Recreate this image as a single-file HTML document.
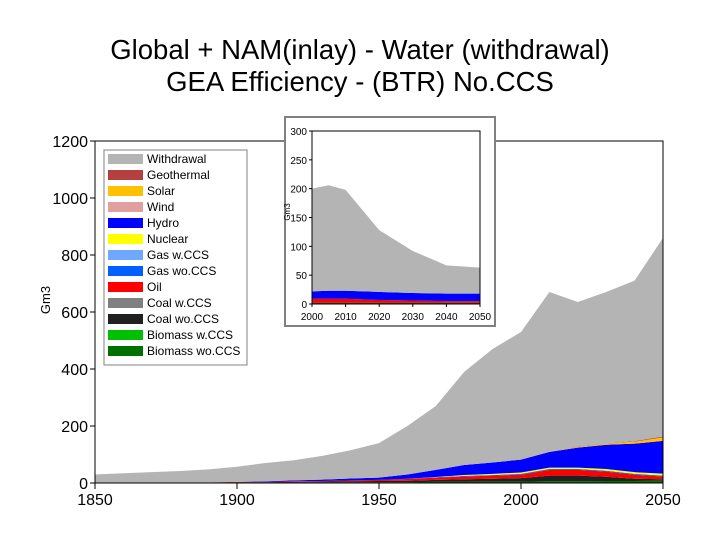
<!DOCTYPE html>
<html><head><meta charset="utf-8"><style>
body{margin:0;background:#fff;}
svg text{font-family:"Liberation Sans",Arial,sans-serif;}
</style></head><body>
<svg id="c" width="720" height="540" xmlns="http://www.w3.org/2000/svg">
<text x="360" y="59" font-size="27.5" text-anchor="middle">Global + NAM(inlay) - Water (withdrawal)</text>
<text x="360" y="91" font-size="27.5" text-anchor="middle">GEA Efficiency - (BTR) No.CCS</text>
<g id="main"></g>
<g id="inlay"></g>
<g id="legend"></g>
</svg>
<script>
const years=[1850,1860,1870,1880,1890,1900,1910,1920,1930,1940,1950,1960,1970,1980,1990,2000,2010,2020,2030,2040,2050];
const total=[30,34,38,42,48,57,70,80,95,115,140,200,270,390,470,530,670,635,670,710,860];
const biomassWo=[1,1,1,1,1,2,2,2,3,3,3,3,4,4,5,5,6,6,7,7,8];
const coalWo=[0,0,0,0,1,1,1,2,2,3,4,5,7,9,10,12,20,20,15,8,5];
const oil=[0,0,0,0,0,1,1,2,2,3,4,6,8,10,11,12,20,20,18,14,10];
const gasWo=[0,0,0,0,0,0,0,0,0,0,0,1,1,2,2,3,3,3,3,3,3];
const nuclear=[0,0,0,0,0,0,0,0,0,0,0,0,1,3,4,5,5,5,6,6,7];
const hydro=[0,0,0,0,0,0,2,3,5,7,8,15,25,35,40,45,55,70,85,100,115];
const solar=[0,0,0,0,0,0,0,0,0,0,0,0,0,0,0,0,1,2,4,7,12];
const geothermal=[0,0,0,0,0,0,0,0,0,0,0,0,0,0,0,0,0,1,1,2,3];
const yTicks=[0,200,400,600,800,1000,1200];
const xTicks=[1850,1900,1950,2000,2050];
const inYears=[2000,2005,2010,2020,2030,2040,2050];
const inTotal=[200,206,198,128,92,67,63];
const inGreen=[2,2,2,2,2,2,2];
const inRed=[7,7,7,5,4,3,3];
const inBlue=[13,14,14,14,13,13,13];
const inYTicks=[0,50,100,150,200,250,300];
const inXTicks=[2000,2010,2020,2030,2040,2050];
const legendLabels=["Withdrawal","Geothermal","Solar","Wind","Hydro","Nuclear","Gas w.CCS","Gas wo.CCS","Oil","Coal w.CCS","Coal wo.CCS","Biomass w.CCS","Biomass wo.CCS"];
const legendColors=["#b4b4b4","#b44040","#ffc000","#e0a0a0","#0000ff","#ffff00","#6fa8ff","#0060ff","#ff0000","#808080","#202020","#00c000","#007000"];
const NS="http://www.w3.org/2000/svg";
function mk(p,t,a){const e=document.createElementNS(NS,t);for(const k in a)e.setAttribute(k,a[k]);p.appendChild(e);return e;}
function stack(g,xs,X,Y,layers,name){
  let base=xs.map(()=>0);
  layers.forEach(([vals,col,nm])=>{
    const top=base.map((b,i)=>b+vals[i]);
    let d="M"+xs.map((x,i)=>X(x)+","+Y(top[i])).join("L");
    for(let i=xs.length-1;i>=0;i--)d+="L"+X(xs[i])+","+Y(base[i]);
    const p=mk(g,"path",{d:d+"Z",fill:col});
    
    
    base=top;
  });
}
const m=document.getElementById('main');
const X=v=>95+(v-1850)*(568/200), Y=v=>483-v*(342/1200);
const sumOthers=years.map((y,i)=>biomassWo[i]+coalWo[i]+oil[i]+gasWo[i]+nuclear[i]+hydro[i]+solar[i]+geothermal[i]);
const withdrawal=total.map((t,i)=>t-sumOthers[i]);
stack(m,years,X,Y,[[biomassWo,"#007000","biomass-wo-ccs"],[coalWo,"#202020","coal-wo-ccs"],[oil,"#ff0000","oil"],[gasWo,"#0060ff","gas-wo-ccs"],[nuclear,"#ffff00","nuclear"],[hydro,"#0000ff","hydro"],[solar,"#ffc000","solar"],[geothermal,"#b44040","geothermal"],[withdrawal,"#b4b4b4","withdrawal"]],"area");
mk(m,"path",{d:`M${X(1850)},${Y(1200)}H${X(2050)}V${Y(0)}`,fill:"none",stroke:"#000"});
mk(m,"line",{x1:X(1850),y1:Y(0),x2:X(1850),y2:Y(1200),stroke:"#000"});
mk(m,"line",{x1:X(1850),y1:Y(0),x2:X(2050),y2:Y(0),stroke:"#000"});
yTicks.forEach(v=>{mk(m,"line",{x1:X(1850)-5,x2:X(1850),y1:Y(v),y2:Y(v),stroke:"#000"});
 const t=mk(m,"text",{x:X(1850)-7,y:Y(v)+6,"font-size":16,"text-anchor":"end"});t.textContent=v;
 
 });
xTicks.forEach(v=>{mk(m,"line",{x1:X(v),x2:X(v),y1:Y(0),y2:Y(0)+6,stroke:"#000"});
 const t=mk(m,"text",{x:X(v),y:505,"font-size":16,"text-anchor":"middle"});t.textContent=v;
 
 });
const yl=mk(m,"text",{x:0,y:0,"font-size":13,"text-anchor":"middle",transform:"translate(50,300) rotate(-90)"});yl.textContent="Gm3";


const g=document.getElementById('inlay');
mk(g,"rect",{x:285,y:117,width:210,height:209,fill:"#fff",stroke:"#808080","stroke-width":2});
const IX=v=>312+(v-2000)*(168/50), IY=v=>304-v*(173/300);
const inGray=inTotal.map((t,i)=>t-inGreen[i]-inRed[i]-inBlue[i]);
stack(g,inYears,IX,IY,[[inGreen,"#007000","inlay-biomass"],[inRed,"#ff0000","inlay-oil"],[inBlue,"#0000ff","inlay-hydro"],[inGray,"#b4b4b4","inlay-withdrawal"]],"area");
mk(g,"path",{d:`M${IX(2000)},${IY(300)}H${IX(2050)}V${IY(0)}H${IX(2000)}Z`,fill:"none",stroke:"#000"});
inYTicks.forEach(v=>{mk(g,"line",{x1:IX(2000)-3,x2:IX(2000),y1:IY(v),y2:IY(v),stroke:"#000"});
 const t=mk(g,"text",{x:IX(2000)-5,y:IY(v)+4,"font-size":10,"text-anchor":"end"});t.textContent=v;
 
 });
inXTicks.forEach(v=>{mk(g,"line",{x1:IX(v),x2:IX(v),y1:IY(0),y2:IY(0)+3,stroke:"#000"});
 const t=mk(g,"text",{x:IX(v),y:320,"font-size":10,"text-anchor":"middle"});t.textContent=v;
 
 });
const il=mk(g,"text",{x:0,y:0,"font-size":8,"text-anchor":"middle",transform:"translate(290,212) rotate(-90)"});il.textContent="Gm3";


const L=document.getElementById('legend');
mk(L,"rect",{x:104,y:150,width:143,height:215,fill:"#fff",stroke:"#808080"});
legendLabels.forEach((lab,i)=>{
 const y=159+i*16;
 const r=mk(L,"rect",{x:108,y:y-5,width:35,height:10,fill:legendColors[i]});
 
 
 const t=mk(L,"text",{x:147,y:y+4,"font-size":12});t.textContent=lab;
 
 
});
</script>
</body></html>
